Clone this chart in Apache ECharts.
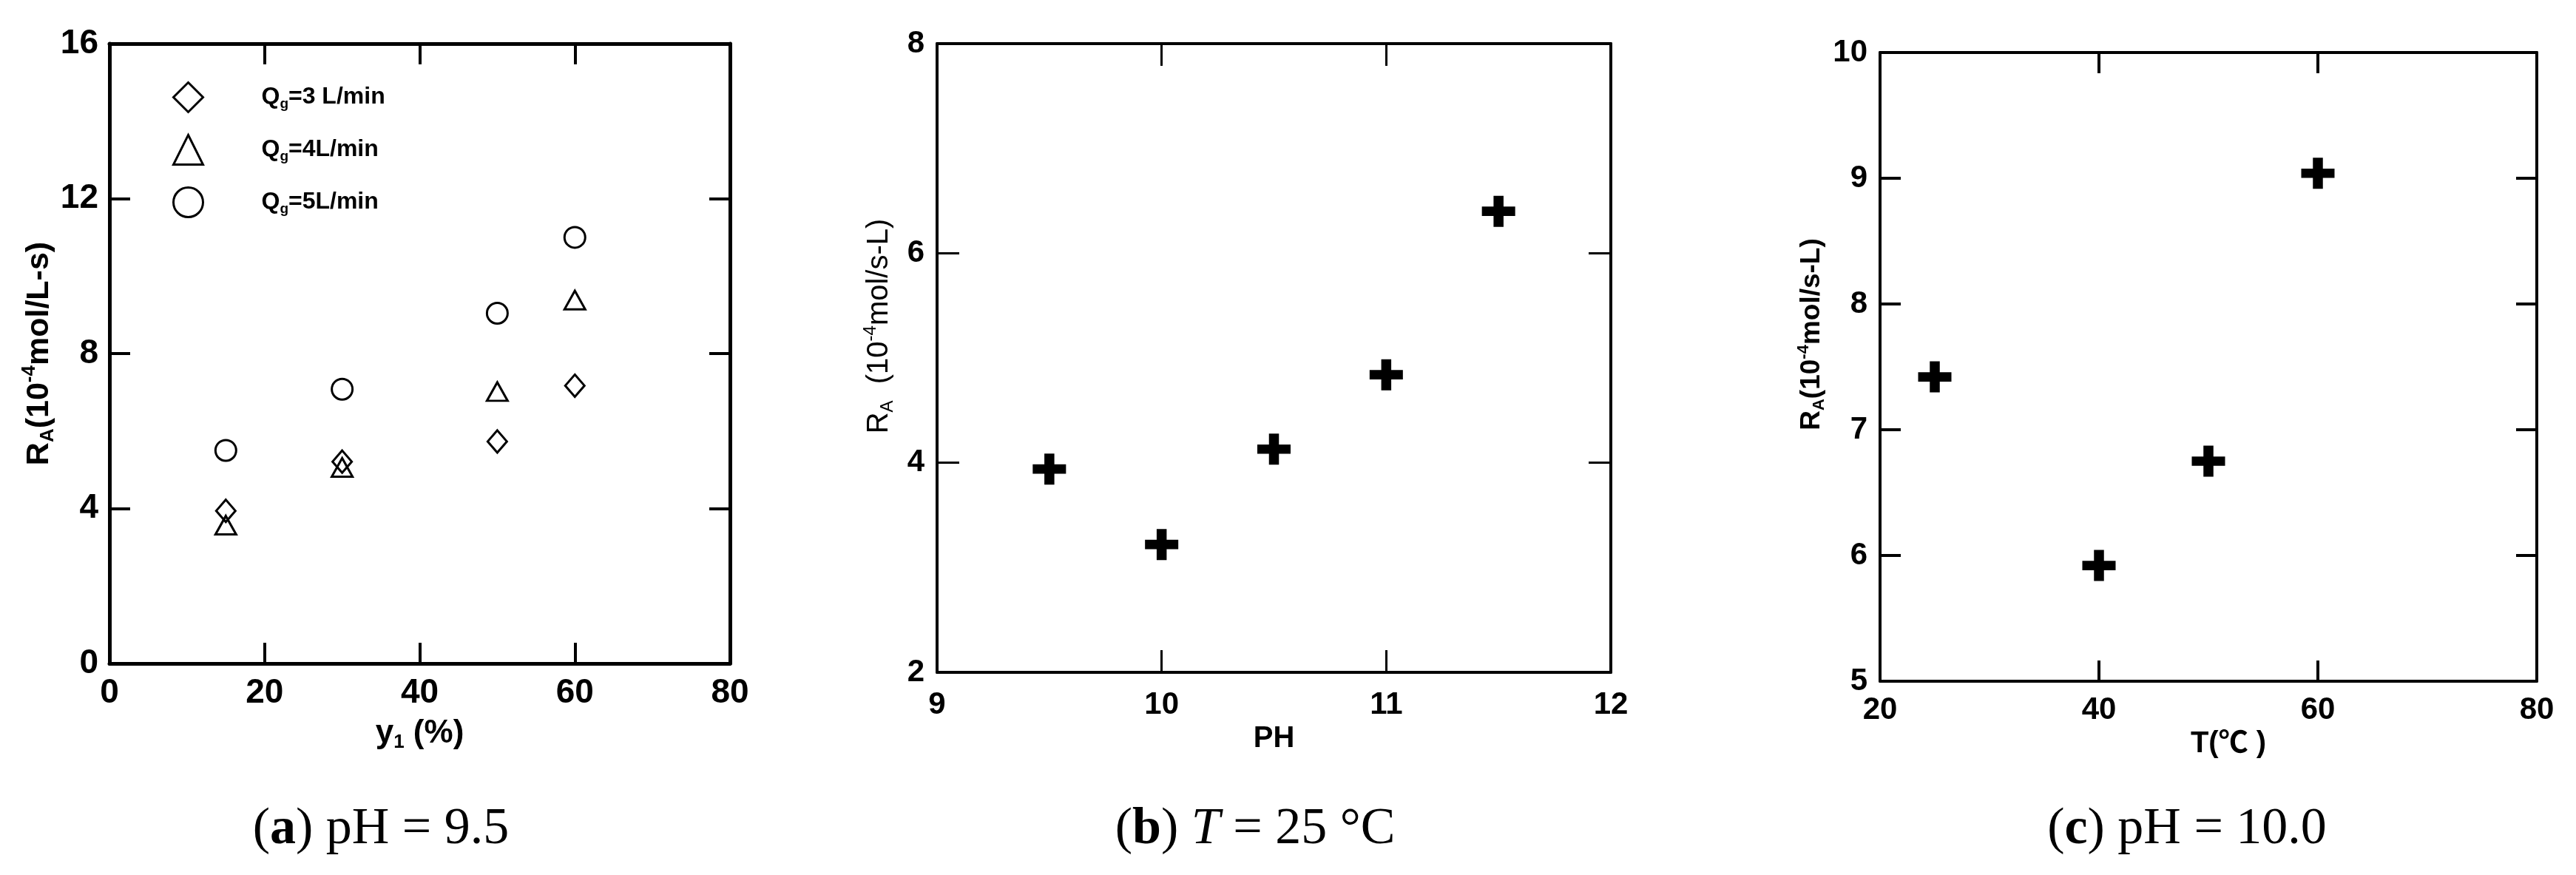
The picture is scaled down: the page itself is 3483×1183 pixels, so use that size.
<!DOCTYPE html>
<html>
<head>
<meta charset="utf-8">
<title>RA vs y1 / PH / T</title>
<script src="https://cdn.jsdelivr.net/npm/echarts@6/dist/echarts.min.js"></script>
<style>
  html, body { margin: 0; padding: 0; background: #fff; }
  #chart { width: 3483px; height: 1183px; }
</style>
</head>
<body>
<div id="chart"></div>
<script>
// (a) pH = 9.5 : RA against y1 for three gas flows
const yFraction = [15, 30, 50, 60];
const rateQ3 = [3.94, 5.21, 5.73, 7.17];
const rateQ4 = [3.57, 5.06, 7.02, 9.38];
const rateQ5 = [5.5, 7.08, 9.04, 11.0];
const flowNames = ['Qg=3 L/min', 'Qg=4L/min', 'Qg=5L/min'];

// (b) T = 25 °C : RA against PH
const phValues = [9.5, 10, 10.5, 11, 11.5];
const ratePH = [3.94, 3.22, 4.13, 4.84, 6.4];

// (c) pH = 10.0 : RA against T
const tempValues = [25, 40, 50, 60];
const rateT = [7.42, 5.92, 6.75, 9.04];

// sub figure captions
const captionTexts = [
  '{n|(}{b|a}{n|) pH = 9.5}',
  '{n|(}{b|b}{n|) }{i|T}{n| = 25 °C}',
  '{n|(}{b|c}{n|) pH = 10.0}'
];

const sans = '"Liberation Sans", Arial, "Noto Sans CJK SC", sans-serif';
const serif = '"Liberation Serif", "DejaVu Serif", serif';
const plusPath = 'path://M35,0H65V35H100V65H65V100H35V65H0V35H35Z';

function zip(xs, ys) {
  return xs.map((x, i) => [x, ys[i]]);
}

// rich styles for sub / superscripts
function scriptRich(size, weight) {
  return {
    n: { fontFamily: sans, fontSize: size, fontWeight: weight, color: '#000' },
    sub: { fontFamily: sans, fontSize: Math.round(size * 0.6), fontWeight: weight, color: '#000', padding: [Math.round(size * 0.55), 0, 0, 0] },
    sup: { fontFamily: sans, fontSize: Math.round(size * 0.6), fontWeight: weight, color: '#000', padding: [0, 0, Math.round(size * 0.6), 0] }
  };
}

// bottom / left axes carry labels, top / right axes only line + ticks
function axis(kind, grid, pos, min, max, interval, o) {
  const labels = pos === 'bottom' || pos === 'left';
  const a = {
    type: 'value',
    gridIndex: grid,
    position: pos,
    min: min,
    max: max,
    interval: interval,
    axisLine: { show: true, onZero: false, lineStyle: { color: '#000', width: o.line } },
    axisTick: { show: true, inside: true, length: o.tick, lineStyle: { color: '#000', width: o.tickW } },
    axisLabel: {
      show: labels,
      margin: kind === 'x' ? o.xMargin : o.yMargin,
      color: '#000',
      fontFamily: sans,
      fontWeight: 'bold',
      fontSize: o.font
    },
    splitLine: { show: false }
  };
  if (labels && o.name) {
    a.name = o.name;
    a.nameLocation = 'middle';
    a.nameGap = o.nameGap;
    a.nameTextStyle = o.nameStyle;
  }
  return a;
}

const styleA = { line: 5, tick: 28, tickW: 4, font: 46, xMargin: 17, yMargin: 15 };
const styleB = { line: 4, tick: 30, tickW: 3, font: 42, xMargin: 23, yMargin: 17 };
const styleC = { line: 4, tick: 28, tickW: 4, font: 42, xMargin: 18, yMargin: 17 };

const xAxes = [
  axis('x', 0, 'bottom', 0, 80, 20, Object.assign({}, styleA, {
    name: '{n|y}{sub|1}{n| (%)}', nameGap: 70,
    nameStyle: { rich: scriptRich(44, 'bold') }
  })),
  axis('x', 0, 'top', 0, 80, 20, styleA),
  axis('x', 1, 'bottom', 9, 12, 1, Object.assign({}, styleB, {
    name: 'PH', nameGap: 52,
    nameStyle: { fontFamily: sans, fontWeight: 'bold', fontSize: 40, color: '#000' }
  })),
  axis('x', 1, 'top', 9, 12, 1, styleB),
  axis('x', 2, 'bottom', 20, 80, 20, Object.assign({}, styleC, {
    name: 'T(℃ )', nameGap: 28,
    nameStyle: { fontFamily: sans, fontWeight: 'bold', fontSize: 40, color: '#000', padding: [0, 0, 0, 54] }
  })),
  axis('x', 2, 'top', 20, 80, 20, styleC)
];

const yAxes = [
  axis('y', 0, 'left', 0, 16, 4, Object.assign({}, styleA, {
    name: '{n|R}{sub|A}{n|(10}{sup|-4}{n|mol/L-s)}', nameGap: 62,
    nameStyle: { rich: scriptRich(43, 'bold') }
  })),
  axis('y', 0, 'right', 0, 16, 4, styleA),
  axis('y', 1, 'left', 2, 8, 2, Object.assign({}, styleB, {
    name: '{n|R}{sub|A}{n|  (10}{sup|-4}{n|mol/s-L)}', nameGap: 54,
    nameStyle: { rich: scriptRich(40, 'normal'), padding: [0, 0, 0, 86] }
  })),
  axis('y', 1, 'right', 2, 8, 2, styleB),
  axis('y', 2, 'left', 5, 10, 1, Object.assign({}, styleC, {
    name: '{n|R}{sub|A}{n|(10}{sup|-4}{n|mol/s-L)}', nameGap: 70,
    nameStyle: { rich: scriptRich(37, 'bold'), padding: [0, 0, 0, 88] }
  })),
  axis('y', 2, 'right', 5, 10, 1, styleC)
];

const hollow = { color: 'rgba(0,0,0,0)', borderColor: '#000', borderWidth: 3, opacity: 1 };
const solid = { color: '#000', opacity: 1 };

const option = {
  backgroundColor: '#fff',
  animation: false,
  grid: [
    { left: 148, top: 59, width: 839, height: 838 },
    { left: 1267, top: 59, width: 911, height: 850 },
    { left: 2542, top: 71, width: 888, height: 850 }
  ],
  xAxis: xAxes,
  yAxis: yAxes,
  legend: {
    data: flowNames,
    orient: 'vertical',
    left: 228,
    top: 105,
    itemWidth: 40,
    itemHeight: 40,
    itemGap: 28,
    selectedMode: false,
    itemStyle: { borderColor: '#000', borderWidth: 3, opacity: 1 },
    formatter: function (name) {
      return '{n|Q}{sub|g}{n|' + name.slice(2) + '}';
    },
    textStyle: { color: '#000', padding: [0, 0, 0, 74], rich: scriptRich(32, 'bold') }
  },
  series: [
    {
      name: flowNames[0], type: 'scatter', xAxisIndex: 0, yAxisIndex: 0,
      symbol: 'diamond', symbolSize: [26, 30], itemStyle: hollow,
      data: zip(yFraction, rateQ3)
    },
    {
      name: flowNames[1], type: 'scatter', xAxisIndex: 0, yAxisIndex: 0,
      symbol: 'triangle', symbolSize: [28, 25], itemStyle: hollow,
      data: zip(yFraction, rateQ4)
    },
    {
      name: flowNames[2], type: 'scatter', xAxisIndex: 0, yAxisIndex: 0,
      symbol: 'circle', symbolSize: 28, itemStyle: hollow,
      data: zip(yFraction, rateQ5)
    },
    {
      name: 'PH', type: 'scatter', xAxisIndex: 2, yAxisIndex: 2,
      symbol: plusPath, symbolSize: [45, 42], itemStyle: solid,
      data: zip(phValues, ratePH)
    },
    {
      name: 'T', type: 'scatter', xAxisIndex: 4, yAxisIndex: 4,
      symbol: plusPath, symbolSize: [45, 42], itemStyle: solid,
      data: zip(tempValues, rateT)
    }
  ],
  graphic: captionTexts.map(function (t, i) {
    return {
      type: 'text',
      x: [515, 1697, 2957][i],
      y: 1122,
      style: {
        text: t,
        align: 'center',
        verticalAlign: 'middle',
        rich: {
          n: { fontFamily: serif, fontSize: 70, fill: '#000' },
          b: { fontFamily: serif, fontSize: 70, fontWeight: 'bold', fill: '#000' },
          i: { fontFamily: serif, fontSize: 70, fontStyle: 'italic', fill: '#000' }
        }
      }
    };
  })
};

const chart = echarts.init(document.getElementById('chart'));
chart.setOption(option);
</script>
</body>
</html>
